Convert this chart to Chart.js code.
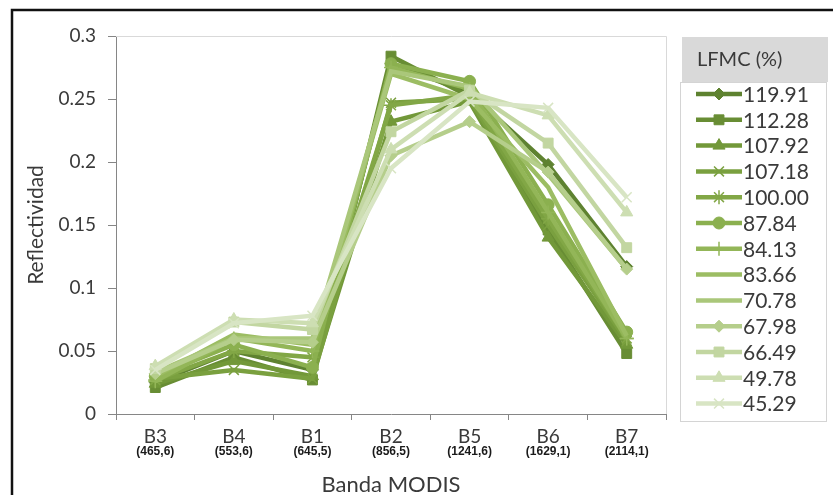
<!DOCTYPE html>
<html>
<head>
<meta charset="utf-8">
<script src="https://cdn.jsdelivr.net/npm/chart.js@4.4.1/dist/chart.umd.min.js"></script>
<style>
  html, body { margin: 0; padding: 0; background: #fff; }
  canvas { display: block; }
</style>
</head>
<body>
<canvas id="chart" width="833" height="495"></canvas>
<script>
// MODIS bands and their central wavelength (nm)
const bands = ['B3', 'B4', 'B1', 'B2', 'B5', 'B6', 'B7'];
const wavelengths = ['(465,6)', '(553,6)', '(645,5)', '(856,5)', '(1241,6)', '(1629,1)', '(2114,1)'];

// LFMC (%) classes, one series each
const lfmcLabels = ['119.91', '112.28', '107.92', '107.18', '100.00', '87.84', '84.13',
  '83.66', '70.78', '67.98', '66.49', '49.78', '45.29'];

const r11991 = [0.025, 0.050, 0.035, 0.278, 0.255, 0.198, 0.117];
const r11228 = [0.021, 0.045, 0.027, 0.284, 0.252, 0.146, 0.048];
const r10792 = [0.024, 0.042, 0.030, 0.232, 0.248, 0.140, 0.055];
const r10718 = [0.028, 0.035, 0.028, 0.247, 0.250, 0.150, 0.058];
const r10000 = [0.027, 0.050, 0.045, 0.245, 0.253, 0.155, 0.060];
const r8784 = [0.030, 0.055, 0.037, 0.278, 0.264, 0.166, 0.065];
const r8413 = [0.026, 0.060, 0.050, 0.275, 0.258, 0.160, 0.060];
const r8366 = [0.030, 0.063, 0.055, 0.270, 0.250, 0.180, 0.062];
const r7078 = [0.033, 0.060, 0.060, 0.272, 0.260, 0.190, 0.115];
const r6798 = [0.032, 0.059, 0.057, 0.205, 0.232, 0.192, 0.115];
const r6649 = [0.036, 0.073, 0.067, 0.224, 0.257, 0.215, 0.132];
const r4978 = [0.038, 0.075, 0.072, 0.210, 0.255, 0.237, 0.160];
const r4529 = [0.035, 0.072, 0.078, 0.195, 0.248, 0.243, 0.172];

const series = [r11991, r11228, r10792, r10718, r10000, r8784, r8413,
  r8366, r7078, r6798, r6649, r4978, r4529];

const colors = ['#5e8230', '#688d34', '#729839', '#7aa03f', '#82a746', '#8bb04f', '#93b658',
  '#9cbd63', '#aac77a', '#b5ce8b', '#c2d6a1', '#cddeb2', '#d8e5c4'];
const markers = ['rectRot', 'rect', 'triangle', 'crossRot', 'star', 'circle', 'cross',
  false, false, 'rectRot', 'rect', 'triangle', 'crossRot'];
const markerSize = [6, 7, 7, 7, 7, 6, 7, 0, 0, 6, 7, 7, 7];

const FONT = 'Lato, "Open Sans", sans-serif';
const TEXT = '#3a3a3a';

const datasets = series.map((data, i) => {
  const thin = ['crossRot', 'star', 'cross'].includes(markers[i]);
  return {
    label: lfmcLabels[i],
    data: data,
    borderColor: colors[i],
    backgroundColor: colors[i],
    borderWidth: 4.5,
    pointStyle: markers[i],
    pointRadius: markerSize[i],
    pointBackgroundColor: colors[i],
    pointBorderColor: colors[i],
    pointBorderWidth: thin ? 1.5 : 1,
    tension: 0,
    order: series.length - i,
  };
});

// frame, plot border, wavelength sub-labels and the legend
const decor = {
  id: 'decor',
  beforeDraw(chart) {
    const ctx = chart.ctx;
    ctx.save();
    ctx.fillStyle = '#fff';
    ctx.fillRect(0, 0, chart.width, chart.height);
    ctx.restore();
  },
  beforeDatasetsDraw(chart) {
    const { ctx, chartArea: a } = chart;
    ctx.save();
    ctx.strokeStyle = '#d9d9d9';
    ctx.lineWidth = 1;
    ctx.beginPath();
    ctx.moveTo(a.left, a.top + 0.5);
    ctx.lineTo(a.right + 0.5, a.top + 0.5);
    ctx.lineTo(a.right + 0.5, a.bottom);
    ctx.stroke();
    ctx.restore();
  },
  afterDraw(chart) {
    const ctx = chart.ctx;
    const x = chart.scales.x;
    ctx.save();
    // wavelengths under band names
    ctx.fillStyle = '#1a1a1a';
    ctx.font = 'bold 12px "Liberation Sans", Arial, sans-serif';
    ctx.textAlign = 'center';
    ctx.textBaseline = 'middle';
    wavelengths.forEach((w, i) => ctx.fillText(w, x.getPixelForTick(i), 452));

    // outer frame
    ctx.strokeStyle = '#111';
    ctx.lineWidth = 2.5;
    ctx.strokeRect(12, 10, 840, 500);

    // legend
    const lx = 680, ly = 82, lw = 146, lh = 339;
    ctx.fillStyle = '#fff';
    ctx.fillRect(lx, ly, lw, lh);
    ctx.strokeStyle = '#d4d4d4';
    ctx.lineWidth = 1;
    ctx.strokeRect(lx + 0.5, ly + 0.5, lw, lh);
    ctx.fillStyle = '#d9d9d9';
    ctx.fillRect(682, 37, 146, 45);
    ctx.fillStyle = TEXT;
    ctx.font = '20px ' + FONT;
    ctx.textAlign = 'left';
    ctx.fillText('LFMC (%)', 697, 60);

    chart.data.datasets.forEach((ds, i) => {
      const y = 94 + i * 25.8;
      ctx.strokeStyle = ds.borderColor;
      ctx.lineWidth = 4.5;
      ctx.beginPath();
      ctx.moveTo(696, y);
      ctx.lineTo(742, y);
      ctx.stroke();
      if (ds.pointStyle) {
        ctx.fillStyle = ds.pointBackgroundColor;
        ctx.strokeStyle = ds.pointBorderColor;
        ctx.lineWidth = ds.pointBorderWidth;
        Chart.helpers.drawPoint(ctx, {
          pointStyle: ds.pointStyle, radius: ds.pointRadius, rotation: 0,
          borderWidth: ds.pointBorderWidth,
        }, 719, y);
      }
      ctx.fillStyle = TEXT;
      ctx.font = '21px ' + FONT;
      ctx.textAlign = 'left';
      ctx.fillText(ds.label, 743, y + 1);
    });
    ctx.restore();
  },
};

new Chart(document.getElementById('chart'), {
  type: 'line',
  data: { labels: bands, datasets: datasets },
  options: {
    responsive: false,
    devicePixelRatio: 1,
    animation: false,
    layout: { padding: { left: 0, right: 167, top: 36, bottom: 0 } },
    plugins: { legend: { display: false }, tooltip: { enabled: false } },
    scales: {
      x: {
        offset: true,
        grid: { offset: true, drawOnChartArea: false, color: '#868686', tickLength: 6 },
        border: { color: '#868686' },
        ticks: { color: TEXT, font: { family: FONT, size: 19 }, padding: 5, maxRotation: 0 },
        title: { display: true, text: 'Banda MODIS', color: TEXT,
          font: { family: FONT, size: 22 }, padding: { top: 0, bottom: -3 } },
        afterFit: (s) => { s.height = 81; },
      },
      y: {
        min: 0,
        max: 0.3,
        grid: { drawOnChartArea: false, color: '#868686', tickLength: 8 },
        border: { color: '#868686' },
        ticks: {
          stepSize: 0.05,
          color: TEXT,
          padding: 12,
          font: { family: FONT, size: 19 },
          callback: (v) => String(+v.toFixed(2)),
        },
        title: { display: true, text: 'Reflectividad', color: TEXT,
          font: { family: FONT, size: 21 }, padding: { top: 24, bottom: 0 } },
        afterFit: (s) => { s.width = 116; },
      },
    },
  },
  plugins: [decor],
});
</script>
</body>
</html>
